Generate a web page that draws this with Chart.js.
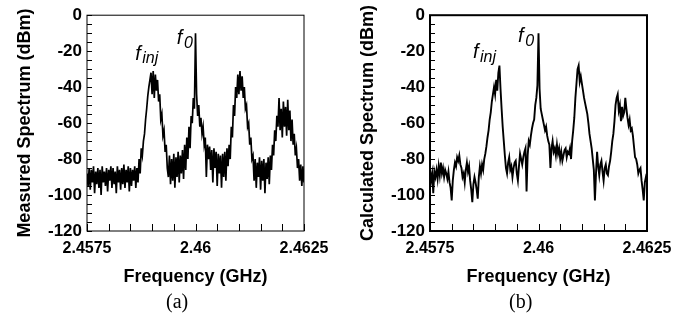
<!DOCTYPE html>
<html>
<head>
<meta charset="utf-8">
<script src="https://cdn.jsdelivr.net/npm/chart.js@4.4.0/dist/chart.umd.min.js"></script>
<style>
  body { margin: 0; background: #fff; }
  #wrap { position: relative; width: 686px; height: 326px; }
  canvas { position: absolute; top: 0; }
  .cap { position: absolute; top: 289px; font: 20px "Liberation Serif", "Times New Roman", serif; color: #000; line-height: 24px; }
</style>
</head>
<body>
<div id="wrap">
  <canvas id="measChart" width="343" height="326" style="left:0"></canvas>
  <canvas id="calcChart" width="343" height="326" style="left:343px"></canvas>
  <div class="cap" style="left:166px">(a)</div>
  <div class="cap" style="left:509px">(b)</div>
</div>
<script>
// analyzer bins: 201 samples across the span
const freqStart = 2.4575;
const freqStep = 0.000025;

const xTickValues = [2.4575, 2.46, 2.4625];
const xMinorTicks = [2.4575, 2.458, 2.4585, 2.459, 2.4595, 2.46, 2.4605, 2.461, 2.4615, 2.462, 2.4625];
const yTickValues = [-120, -100, -80, -60, -40, -20, 0];
const yMinorTicks = [-120, -115, -110, -105, -100, -95, -90, -85, -80, -75, -70, -65, -60,
  -55, -50, -45, -40, -35, -30, -25, -20, -15, -10, -5, 0];

// measured spectrum (dBm)
const measuredDbm = [
  -88, -95, -85, -97, -86, -93, -84, -99, -87, -94,
  -85, -96, -86, -100, -84, -93, -87, -95, -85, -98,
  -86, -92, -84, -96, -85, -94, -87, -99, -84, -93,
  -86, -97, -85, -94, -83, -96, -86, -93, -84, -98,
  -85, -95, -86, -92, -84, -96, -85, -93,
  -80, -88, -74, -78, -70, -66, -58, -52, -45, -40,
  -36, -32, -44, -31, -46, -33, -42, -36,
  -48, -44, -58, -55, -67, -64, -76, -72, -85,
  -90, -78, -94, -80, -92, -77, -96, -79, -90, -76,
  -93, -78, -88, -75, -91, -72, -86, -68, -80, -62,
  -74, -56, -60, -46, -52,
  -10, -44, -56, -50, -62, -57, -66, -62, -72, -68,
  -90, -72, -80, -73, -86, -75, -93, -74, -85, -76,
  -95, -77, -88, -78, -96, -77, -90, -76, -92, -74,
  -84,
  -72, -80, -62, -68, -50, -56, -40, -46, -33,
  -44, -31, -42, -34, -46, -40, -52, -50, -62, -60,
  -72, -68, -80, -78, -92, -80, -96, -82, -90, -79,
  -97, -81, -92, -80, -99, -82, -91, -79, -94, -78,
  -86, -72, -78, -64, -70, -56, -62, -46, -64, -52,
  -68, -48, -62, -51, -67, -47, -64, -53, -70, -58,
  -72, -66, -78, -74, -85, -80, -92, -83, -95, -84,
  -93
];

// calculated spectrum (dBm)
const calculatedDbm = [
  -86, -92, -88, -99, -87, -90, -86, -91, -84, -89,
  -82, -88, -85, -90, -86, -88, -91, -87, -93, -96,
  -103, -92, -86, -82, -84, -79, -81, -78, -83, -85,
  -90, -88, -93, -86, -82, -87, -84, -92, -97, -104,
  -94, -90, -93, -97, -102, -90, -84, -88, -83, -86,
  -80, -77, -73, -68, -64, -58, -54, -48, -44, -40,
  -44, -36, -42, -32, -28, -41, -52, -62, -70, -78,
  -85, -88, -82, -79, -86, -84, -90, -85, -82, -81,
  -88, -92, -84, -77, -80, -83, -79, -76, -74, -98,
  -78, -70, -72, -67, -63, -60, -58, -50, -46, -39,
  -10, -41, -52, -55, -58, -61, -64, -62, -67, -70,
  -72, -85, -74, -70, -76, -74, -78, -72, -77, -74,
  -80, -76, -81, -78, -75, -74, -79, -76, -77, -74,
  -80, -70, -64, -57, -46, -38, -30, -28, -37, -34,
  -38, -42, -46, -49, -52, -55, -60, -66, -70, -74,
  -80, -86, -103, -88, -76, -84, -89, -83, -81, -87,
  -92, -85, -83, -88, -89, -84, -81, -76, -70, -66,
  -59, -50, -46, -44, -53, -50, -59, -51, -56, -54,
  -46, -52, -57, -61, -58, -64, -63, -67, -73, -79,
  -80, -83, -88, -86, -85, -92, -97, -103, -93, -90,
  -92
];

const sans = '"Liberation Sans", Arial, sans-serif';
Chart.defaults.color = '#000';

// inward ticks, frame and the f labels
const frameTicks = {
  id: 'frameTicks',
  afterDraw(chart, args, opts) {
    const { ctx, chartArea: a, scales: { x, y } } = chart;
    ctx.save();
    ctx.strokeStyle = '#000';
    ctx.lineWidth = 1;
    ctx.beginPath();
    for (const v of xMinorTicks) {
      const px = Math.round(x.getPixelForValue(v)) + 0.5;
      ctx.moveTo(px, a.bottom);
      ctx.lineTo(px, a.bottom - 7);
    }
    for (const v of yMinorTicks) {
      const py = Math.round(y.getPixelForValue(v)) + 0.5;
      ctx.moveTo(a.left, py);
      ctx.lineTo(a.left + 5, py);
    }
    ctx.stroke();
    ctx.lineWidth = opts.frameWidth;
    ctx.strokeRect(a.left, a.top, a.right - a.left, a.bottom - a.top);

    ctx.fillStyle = '#000';
    ctx.textBaseline = 'alphabetic';
    for (const n of opts.notes) {
      const px = x.getPixelForValue(n.x);
      const py = y.getPixelForValue(n.y);
      ctx.font = 'italic 20px ' + sans;
      ctx.fillText('f', px, py);
      const w = ctx.measureText('f').width;
      ctx.font = 'italic 16px ' + sans;
      ctx.fillText(n.sub, px + w + 1.5, py + 3.5);
    }
    ctx.restore();
  }
};

function drawSpectrum(canvasId, values, yTitle, lineWidth, frameWidth, notes) {
  const points = values.map((v, i) => ({ x: freqStart + i * freqStep, y: v }));
  return new Chart(document.getElementById(canvasId), {
    type: 'line',
    data: {
      datasets: [{
        data: points,
        borderColor: '#000',
        borderWidth: lineWidth,
        borderJoinStyle: 'miter',
        pointRadius: 0,
        tension: 0,
        fill: false
      }]
    },
    options: {
      responsive: false,
      animation: false,
      devicePixelRatio: 1,
      layout: { padding: { left: 0, top: 12, right: 39, bottom: 0 } },
      plugins: {
        legend: { display: false },
        tooltip: { enabled: false },
        frameTicks: { frameWidth: frameWidth, notes: notes }
      },
      scales: {
        x: {
          type: 'linear',
          min: 2.4575,
          max: 2.4625,
          grid: { display: false, drawTicks: false },
          border: { display: false },
          afterBuildTicks: s => { s.ticks = xTickValues.map(v => ({ value: v })); },
          afterFit: s => { s.height = 95; },
          ticks: {
            font: { family: sans, size: 16, weight: 'bold' },
            color: '#000',
            padding: 8,
            maxRotation: 0,
            autoSkip: false,
            callback: v => String(v)
          },
          title: {
            display: true,
            text: 'Frequency (GHz)',
            color: '#000',
            font: { family: sans, size: 18, weight: 'bold' },
            padding: { top: 0, bottom: 38 }
          }
        },
        y: {
          min: -120,
          max: 0,
          grid: { display: false, drawTicks: false },
          border: { display: false },
          afterBuildTicks: s => { s.ticks = yTickValues.map(v => ({ value: v })); },
          afterFit: s => { s.width = 87; },
          ticks: {
            font: { family: sans, size: 17, weight: 'bold' },
            color: '#000',
            padding: 5
          },
          title: {
            display: true,
            text: yTitle,
            color: '#000',
            font: { family: sans, size: 18, weight: 'bold' },
            padding: { top: 14, bottom: 0 }
          }
        }
      }
    },
    plugins: [frameTicks]
  });
}

drawSpectrum('measChart', measuredDbm, 'Measured Spectrum (dBm)', 1.7, 1, [
  { sub: 'inj', x: 2.45861, y: -24.9 },
  { sub: '0', x: 2.45957, y: -16.1 }
]);

drawSpectrum('calcChart', calculatedDbm, 'Calculated Spectrum (dBm)', 1.9, 2, [
  { sub: 'inj', x: 2.45849, y: -23.8 },
  { sub: '0', x: 2.45953, y: -15.0 }
]);
</script>
</body>
</html>
